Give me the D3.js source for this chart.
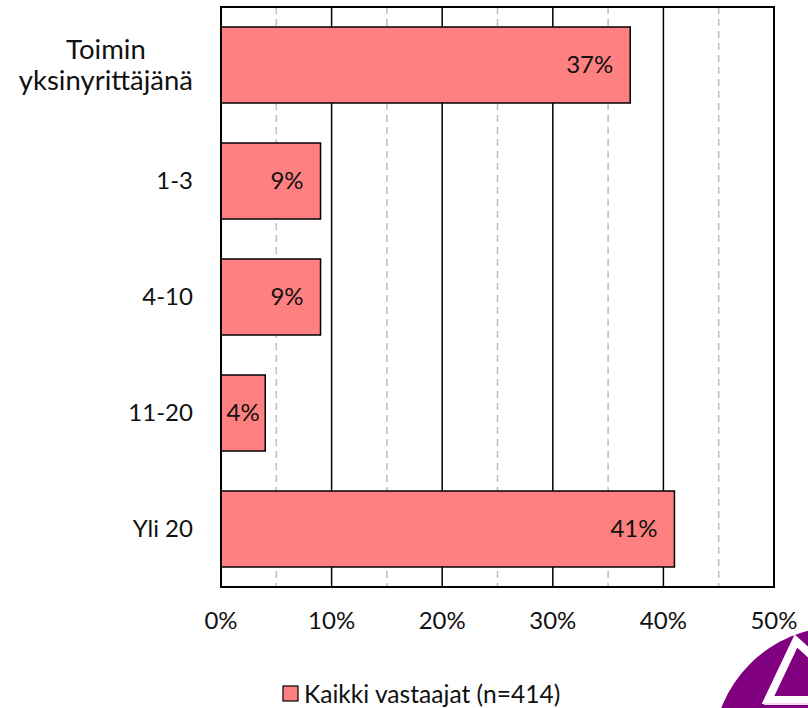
<!DOCTYPE html>
<html>
<head>
<meta charset="utf-8">
<script src="https://cdn.jsdelivr.net/npm/d3@7"></script>
<style>
  body { margin: 0; background: #fff; }
  svg text { font-family: Lato, "Open Sans", sans-serif; fill: #111; }
</style>
</head>
<body>
<div id="chart"></div>
<script>
// chart data
var categories = [["Toimin", "yksinyrittäjänä"], ["1-3"], ["4-10"], ["11-20"], ["Yli 20"]];
var values = [37, 9, 9, 4, 41];
var tickValues = [0, 10, 20, 30, 40, 50];
var minorTicks = [5, 15, 25, 35, 45];
var seriesName = "Kaikki vastaajat (n=414)";

var W = 808, H = 708;
var margin = {top: 7, right: 34, bottom: 121, left: 221};
var barColor = "#ff8080";
var fs = 24;

var svg = d3.select("#chart").append("svg")
    .attr("width", W)
    .attr("height", H);

var x = d3.scaleLinear()
    .domain([0, 50])
    .range([margin.left, W - margin.right]);

var y = d3.scaleBand()
    .domain(d3.range(categories.length))
    .range([margin.top, H - margin.bottom])
    .paddingInner(0.345)
    .paddingOuter(0.1725);

// dashed minor gridlines
svg.append("g").selectAll("line")
    .data(minorTicks)
    .enter().append("line")
    .attr("x1", d => x(d)).attr("x2", d => x(d))
    .attr("y1", margin.top).attr("y2", H - margin.bottom)
    .attr("stroke", "#bdbdbd")
    .attr("stroke-width", 1.5)
    .attr("stroke-dasharray", "7,5");

// solid major gridlines
svg.append("g").selectAll("line")
    .data(tickValues.slice(1, -1))
    .enter().append("line")
    .attr("x1", d => x(d)).attr("x2", d => x(d))
    .attr("y1", margin.top).attr("y2", H - margin.bottom)
    .attr("stroke", "#000")
    .attr("stroke-width", 1.5);

// bars
svg.append("g").selectAll("rect")
    .data(values)
    .enter().append("rect")
    .attr("x", x(0))
    .attr("y", (d, i) => y(i))
    .attr("width", d => x(d) - x(0))
    .attr("height", y.bandwidth())
    .attr("fill", barColor)
    .attr("stroke", "#000")
    .attr("stroke-width", 1.5);

// value labels, inside end
var labels = svg.append("g").selectAll("text")
    .data(values)
    .enter().append("text")
    .attr("y", (d, i) => y(i) + y.bandwidth() / 2)
    .attr("dy", "0.35em")
    .attr("text-anchor", "end")
    .style("font-size", fs + "px")
    .text(d => d + "%");
labels.each(function(d) {
    var tw = this.getComputedTextLength();
    var bw = x(d) - x(0);
    var pad = Math.min(17, (bw - tw) / 2);
    d3.select(this).attr("x", x(d) - pad);
});

// plot frame
svg.append("rect")
    .attr("x", margin.left)
    .attr("y", margin.top)
    .attr("width", W - margin.right - margin.left)
    .attr("height", H - margin.bottom - margin.top)
    .attr("fill", "none")
    .attr("stroke", "#000")
    .attr("stroke-width", 2);

// category labels (the wrapped one renders a bit larger in the original)
var cat = svg.append("g").selectAll("text")
    .data(categories)
    .enter().append("text")
    .attr("text-anchor", "middle")
    .style("font-size", d => (d.length > 1 ? 27.5 : fs) + "px")
    .attr("y", (d, i) => y(i) + y.bandwidth() / 2);
cat.each(function(d) {
    var t = d3.select(this);
    var n = d.length;
    d.forEach(function(line, k) {
        t.append("tspan")
            .attr("x", 0)
            .attr("dy", k === 0 ? (0.35 - (n - 1) * 0.57) + "em" : "1.14em")
            .text(line);
    });
    var w = this.getBBox().width;
    t.attr("transform", "translate(" + (193 - w / 2) + ",0)");
});

// x axis tick labels
svg.append("g").selectAll("text")
    .data(tickValues)
    .enter().append("text")
    .attr("x", d => x(d))
    .attr("y", 621)
    .attr("dy", "0.35em")
    .attr("text-anchor", "middle")
    .style("font-size", fs + "px")
    .text(d => d + "%");

// legend
var leg = svg.append("g").attr("transform", "translate(283,686)");
leg.append("rect")
    .attr("width", 15).attr("height", 15)
    .attr("fill", barColor)
    .attr("stroke", "#000")
    .attr("stroke-width", 1.2);
leg.append("text")
    .attr("x", 21)
    .attr("y", 8)
    .attr("dy", "0.35em")
    .style("font-size", "24.6px")
    .text(seriesName);

// logo corner
var logo = svg.append("g");
logo.append("circle")
    .attr("cx", 839).attr("cy", 753).attr("r", 126)
    .attr("fill", "#800080");
logo.append("path")
    .attr("d", "M796,641 L768,700 L860,700 Z")
    .attr("fill", "#800080")
    .attr("stroke", "#fff")
    .attr("stroke-width", 8)
    .attr("stroke-linejoin", "miter");
logo.append("line")
    .attr("x1", 764).attr("x2", 808)
    .attr("y1", 704).attr("y2", 704)
    .attr("stroke", "#f2d6f2")
    .attr("stroke-width", 2);
</script>
</body>
</html>
